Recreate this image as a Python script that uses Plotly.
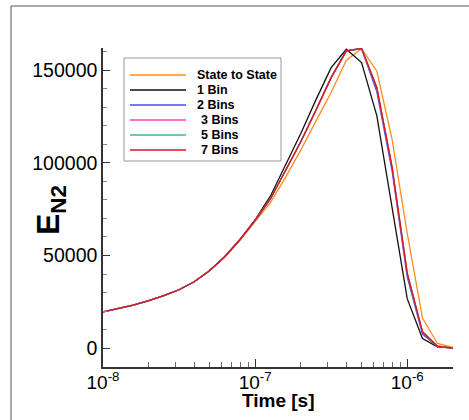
import plotly.graph_objects as go

# ---------------- data ----------------
time_s = [1.0e-8, 1.26e-8, 1.58e-8, 2.0e-8, 2.51e-8, 3.16e-8, 3.98e-8, 5.01e-8,
          6.31e-8, 7.94e-8, 1.0e-7, 1.26e-7, 1.58e-7, 2.0e-7, 2.51e-7, 3.16e-7,
          3.98e-7, 5.01e-7, 6.31e-7, 7.94e-7, 1.0e-6, 1.26e-6, 1.58e-6, 2.0e-6]

state_to_state = [19500, 21200, 23200, 25600, 28300, 31500, 35800, 41800, 49000, 58000,
                  68300, 78500, 92000, 107000, 122500, 138000, 155400, 161600, 149600,
                  113000, 62000, 16200, 2500, 400]
bin1 = [19500, 21200, 23200, 25600, 28300, 31500, 35800, 41800, 49300, 58600,
        69300, 82000, 98400, 116000, 134000, 151400, 161300, 154100, 125500,
        75000, 26700, 5200, 700, 0]
bins2 = [19500, 21200, 23200, 25600, 28300, 31500, 35800, 41800, 49300, 58500,
         69000, 80500, 95500, 111500, 128400, 146000, 160400, 161600, 138500,
         96000, 38500, 7500, 800, 0]
bins3 = [19500, 21200, 23200, 25600, 28300, 31500, 35800, 41800, 49300, 58500,
         69000, 80500, 95500, 111500, 128400, 146000, 160400, 161800, 140600,
         98000, 40500, 8800, 1000, 0]
bins5 = [19500, 21200, 23200, 25600, 28300, 31500, 35800, 41800, 49300, 58500,
         69000, 80500, 95500, 111500, 128400, 146000, 160400, 161800, 140600,
         98000, 40500, 8800, 1000, 0]
bins7 = [19500, 21200, 23200, 25600, 28300, 31500, 35800, 41800, 49300, 58500,
         69000, 80500, 95500, 111500, 128400, 146000, 160400, 161800, 140600,
         98000, 40500, 8800, 1000, 0]

series_names = ["State to State", "1 Bin", "2 Bins", " 3 Bins", " 5 Bins", " 7 Bins"]
series_values = [state_to_state, bin1, bins2, bins3, bins5, bins7]
series_colors = ["#FF8C1A", "#111111", "#4A4AFF", "#FF40C8", "#3DBB78", "#E0101E"]

y_tick_vals = [0, 50000, 100000, 150000]
y_tick_text = ["0", "50000", "100000", "150000"]
y_minor_vals = [10000, 20000, 30000, 40000, 60000, 70000, 80000, 90000,
                110000, 120000, 130000, 140000, 160000]
x_tick_vals = [1e-8, 1e-7, 1e-6]
x_tick_text = ["10<sup>-8</sup>", "10<sup>-7</sup>", "10<sup>-6</sup>"]
x_minor_vals = [2e-8, 3e-8, 4e-8, 5e-8, 6e-8, 7e-8, 8e-8, 9e-8,
                2e-7, 3e-7, 4e-7, 5e-7, 6e-7, 7e-7, 8e-7, 9e-7, 2e-6]

FONT = "Liberation Sans, Arial, Helvetica, sans-serif"

fig = go.Figure()
for name, vals, col in zip(series_names, series_values, series_colors):
    fig.add_trace(go.Scatter(x=time_s, y=vals, mode="lines", name=name.strip(),
                             line=dict(color=col, width=1.3), showlegend=False))

# ---------------- layout ----------------
W, H = 469, 420
PLOT_L, PLOT_R, PLOT_T, PLOT_B = 103, 453, 48, 367   # page pixels
L, T = PLOT_L, PLOT_T
R = W - PLOT_R
B = H - PLOT_B
pw, ph = PLOT_R - PLOT_L, PLOT_B - PLOT_T

def px_x(x):
    return (x - PLOT_L) / pw

def px_y(y):
    return (PLOT_B - y) / ph

shapes = []
annotations = []

# outer frame (left and top border lines)
shapes.append(dict(type="line", xref="paper", yref="paper",
                   x0=px_x(11), x1=px_x(11), y0=px_y(440), y1=px_y(6),
                   line=dict(color="#555555", width=1)))
shapes.append(dict(type="line", xref="paper", yref="paper",
                   x0=px_x(11), x1=px_x(490), y0=px_y(6), y1=px_y(6),
                   line=dict(color="#555555", width=1)))

# custom legend box
shapes.append(dict(type="rect", xref="paper", yref="paper",
                   x0=px_x(124), x1=px_x(281), y0=px_y(161), y1=px_y(58),
                   line=dict(color="#999999", width=1), fillcolor="white"))
row_y = [75, 90, 105, 120, 135, 150]
for name, col, ry in zip(series_names, series_colors, row_y):
    shapes.append(dict(type="line", xref="paper", yref="paper",
                       x0=px_x(130), x1=px_x(186), y0=px_y(ry), y1=px_y(ry),
                       line=dict(color=col, width=1.6)))
    annotations.append(dict(xref="paper", yref="paper",
                            x=px_x(199 if name.startswith(" ") else 195),
                            y=px_y(ry), xanchor="left", yanchor="middle",
                            text="<b>%s</b>" % name.strip(), showarrow=False,
                            font=dict(family=FONT, size=12.5, color="black")))

# axis titles
annotations.append(dict(xref="paper", yref="paper", x=0.5, y=px_y(400),
                        xanchor="center", yanchor="middle", showarrow=False,
                        text="<b>Time [s]</b>",
                        font=dict(family=FONT, size=19, color="black")))
annotations.append(dict(xref="paper", yref="paper", x=px_x(50), y=px_y(210),
                        xanchor="center", yanchor="middle", showarrow=False,
                        textangle=-90, text="<b>E<sub>N2</sub></b>",
                        font=dict(family=FONT, size=32, color="black")))

fig.update_layout(
    width=W, height=H,
    margin=dict(l=L, r=R, t=T, b=B),
    paper_bgcolor="white", plot_bgcolor="white",
    font=dict(family=FONT, color="black"),
    shapes=shapes, annotations=annotations,
    showlegend=False,
    xaxis=dict(type="log", range=[-8, -5.699], showgrid=False, zeroline=False,
               showline=True, linecolor="#333333", linewidth=1.5,
               tickmode="array", tickvals=x_tick_vals, ticktext=x_tick_text,
               ticks="inside", ticklen=8, tickwidth=1, tickcolor="#333333",
               ticklabelstandoff=-3,
               tickfont=dict(family=FONT, size=19, color="black"),
               minor=dict(tickmode="array", tickvals=x_minor_vals, ticks="inside",
                          ticklen=5, tickwidth=1, tickcolor="#666666", showgrid=False)),
    yaxis=dict(range=[-10200, 162000], showgrid=False, zeroline=False,
               showline=True, linecolor="#333333", linewidth=1.5,
               tickmode="array", tickvals=y_tick_vals, ticktext=y_tick_text,
               ticks="inside", ticklen=7, tickwidth=1, tickcolor="#333333",
               tickfont=dict(family=FONT, size=19.5, color="black"),
               minor=dict(tickmode="array", tickvals=y_minor_vals, ticks="inside",
                          ticklen=4, tickwidth=1, tickcolor="#888888", showgrid=False)),
)

fig.write_html("out.html",
               config={"displayModeBar": False},
               post_script="document.body.style.margin='0px';document.body.style.overflow='hidden';")
